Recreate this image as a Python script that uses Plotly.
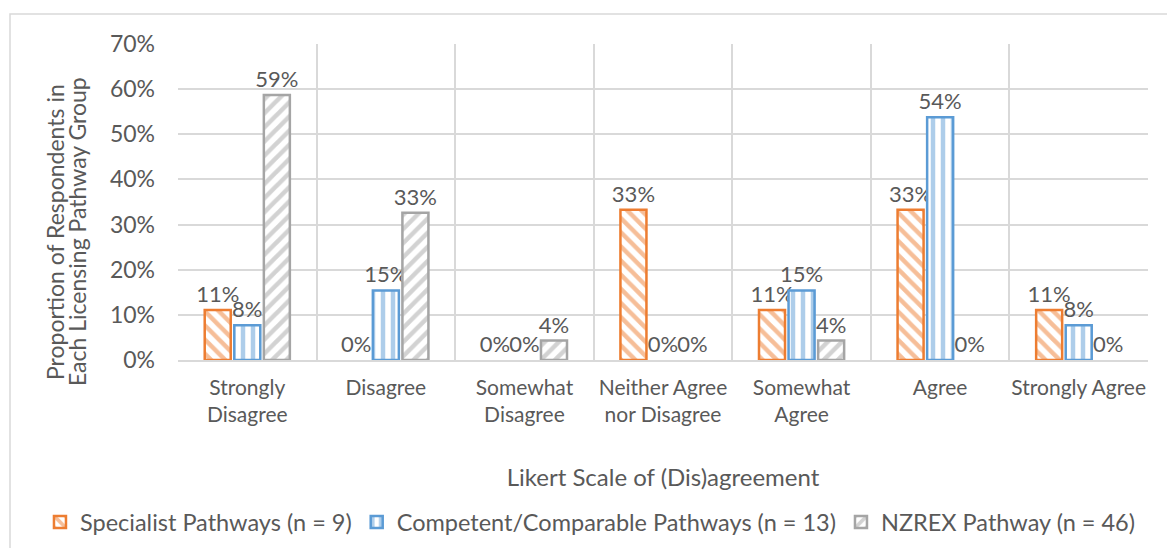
import plotly.graph_objects as go

categories = ["Strongly<br>Disagree", "Disagree", "Somewhat<br>Disagree", "Neither Agree<br>nor Disagree",
              "Somewhat<br>Agree", "Agree", "Strongly Agree"]
specialist = [0.111, 0.0, 0.0, 0.333, 0.111, 0.333, 0.111]
competent = [0.077, 0.154, 0.0, 0.0, 0.154, 0.538, 0.077]
nzrex = [0.587, 0.326, 0.043, 0.0, 0.043, 0.0, 0.0]
series_names = ["Specialist Pathways (n = 9)", "Competent/Comparable Pathways (n = 13)", "NZREX Pathway (n = 46)"]
y_ticks = [0, 0.1, 0.2, 0.3, 0.4, 0.5, 0.6, 0.7]
y_title_lines = ["Proportion of Respondents in", "Each Licensing Pathway Group"]

colors = ["#ED7D31", "#5B9BD5", "#A5A5A5"]
shapes = ["\\", "|", "/"]
FONT = "Lato"
TXT = "#595959"

fig = go.Figure()
for name, vals, col, shp in zip(series_names, [specialist, competent, nzrex], colors, shapes):
    fig.add_trace(go.Bar(
        x=categories, y=vals, name=name,
        marker=dict(color="white",
                    line=dict(color=col, width=[2.5 if v > 0 else 0 for v in vals]),
                    pattern=dict(shape=shp, fgcolor=col, bgcolor="white", size=10, solidity=0.45, fillmode="overlay")),
        texttemplate="%{y:.0%}", textposition="outside", cliponaxis=False, constraintext="none",
        textfont=dict(family=FONT, size=22, color=TXT),
    ))

fig.update_layout(
    width=1167, height=548,
    margin=dict(l=178, r=19, t=44, b=188, autoexpand=False),
    paper_bgcolor="white", plot_bgcolor="white",
    barmode="group", bargap=0.36, bargroupgap=0.12,
    font=dict(family=FONT, size=20, color=TXT),
    showlegend=True,
    legend=dict(orientation="h", xref="paper", x=-0.1423, xanchor="left",
                yref="paper", y=-0.513, yanchor="middle",
                font=dict(family=FONT, size=23.5, color=TXT), itemwidth=30, tracegroupgap=0),
    shapes=[dict(type="rect", xref="paper", yref="paper", x0=-0.1732, x1=1.03, y0=-0.7, y1=1.0949,
                 line=dict(color="#D9D9D9", width=1.5), fillcolor="rgba(0,0,0,0)", layer="below")],
    annotations=[
        dict(text=y_title_lines[0], xref="paper", yref="paper", x=-0.1268, y=0.405,
             xanchor="center", yanchor="middle", textangle=-90, showarrow=False,
             font=dict(family=FONT, size=23, color=TXT)),
        dict(text=y_title_lines[1], xref="paper", yref="paper", x=-0.1041, y=0.405,
             xanchor="center", yanchor="middle", textangle=-90, showarrow=False,
             font=dict(family=FONT, size=23, color=TXT)),
    ],
)
fig.update_xaxes(
    automargin=False, tickangle=0,
    tickson="boundaries", showgrid=True, gridcolor="#D9D9D9", gridwidth=1.5,
    showline=True, linecolor="#D9D9D9", linewidth=1.5, ticks="", ticklabelstandoff=8,
    tickfont=dict(family=FONT, size=21, color=TXT),
    title=dict(text="Likert Scale of (Dis)agreement", font=dict(family=FONT, size=24, color=TXT), standoff=44),
)
fig.update_yaxes(
    automargin=False,
    range=[0, 0.7], tickvals=y_ticks, tickformat=".0%",
    showgrid=True, gridcolor="#D9D9D9", gridwidth=1.5, zeroline=False,
    tickfont=dict(family=FONT, size=23, color=TXT), ticks="", ticklabelstandoff=22,
)
fig.write_html("out.html")
